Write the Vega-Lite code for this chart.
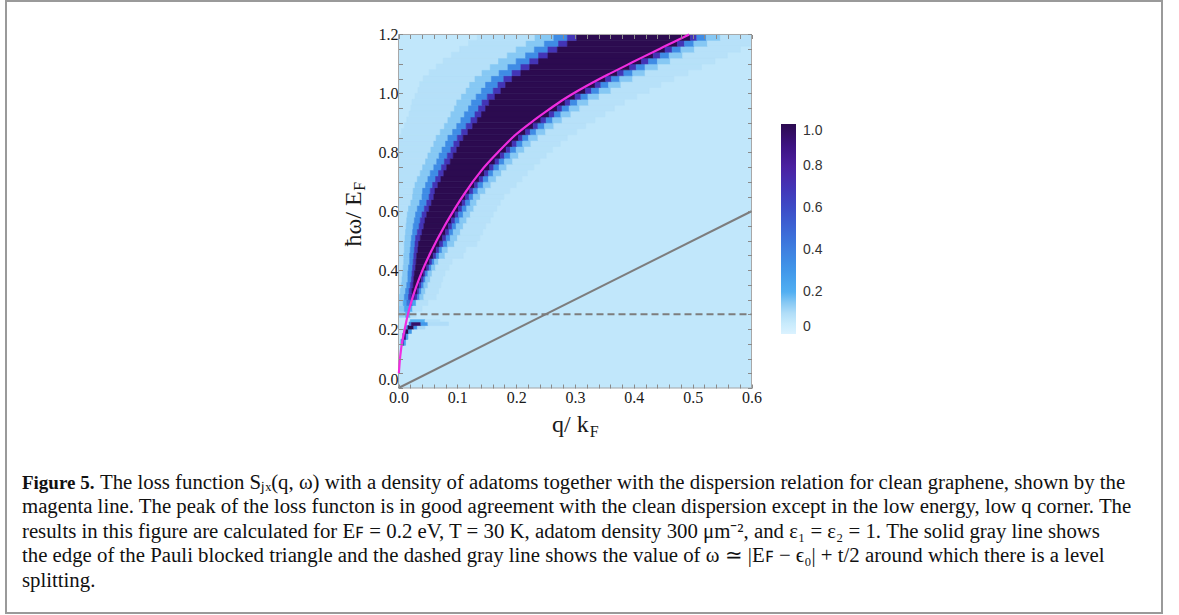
{
"$schema":"https://vega.github.io/schema/vega-lite/v6.json",
"width":1156,"height":612,
"autosize":{"type":"none"},
"padding":{"left":6,"top":1,"right":17,"bottom":2},
"background":"white",
"config":{"view":{"stroke":"#9a9a9a","strokeWidth":2}},
"resolve":{"axis":{"x":"independent","y":"independent"}},
"layer":[
{
"data":{"values":[
{"w":0,"w2":1.2,"q":0,"q2":0.6,"v":0.065},
{"w":0.24,"w2":0.26,"q":0,"q2":0.012,"v":0.13},{"w":0.24,"w2":0.26,"q":0.012,"q2":0.02,"v":0.2},{"w":0.24,"w2":0.26,"q":0.02,"q2":0.03,"v":0.09},
{"w":0.26,"w2":0.28,"q":0,"q2":0.01,"v":0.15},{"w":0.26,"w2":0.28,"q":0.01,"q2":0.018,"v":0.25},{"w":0.26,"w2":0.28,"q":0.018,"q2":0.024,"v":0.2},{"w":0.26,"w2":0.28,"q":0.024,"q2":0.04,"v":0.09},
{"w":0.28,"w2":0.3,"q":0,"q2":0.008,"v":0.13},{"w":0.28,"w2":0.3,"q":0.008,"q2":0.014,"v":0.25},{"w":0.28,"w2":0.3,"q":0.014,"q2":0.019,"v":0.45},{"w":0.28,"w2":0.3,"q":0.019,"q2":0.024,"v":0.55},{"w":0.28,"w2":0.3,"q":0.024,"q2":0.03,"v":0.25},{"w":0.28,"w2":0.3,"q":0.03,"q2":0.05,"v":0.09},
{"w":0.3,"w2":0.32,"q":0.001,"q2":0.01,"v":0.15},{"w":0.3,"w2":0.32,"q":0.01,"q2":0.017,"v":0.35},{"w":0.3,"w2":0.32,"q":0.017,"q2":0.021,"v":0.7},{"w":0.3,"w2":0.32,"q":0.021,"q2":0.028,"v":0.85},{"w":0.3,"w2":0.32,"q":0.028,"q2":0.032,"v":0.7},{"w":0.3,"w2":0.32,"q":0.032,"q2":0.036,"v":0.35},{"w":0.3,"w2":0.32,"q":0.036,"q2":0.043,"v":0.15},{"w":0.3,"w2":0.32,"q":0.043,"q2":0.064,"v":0.085},
{"w":0.32,"w2":0.34,"q":0,"q2":0.003,"v":0.09},{"w":0.32,"w2":0.34,"q":0.003,"q2":0.012,"v":0.15},{"w":0.32,"w2":0.34,"q":0.012,"q2":0.018,"v":0.35},{"w":0.32,"w2":0.34,"q":0.018,"q2":0.023,"v":0.7},{"w":0.32,"w2":0.34,"q":0.023,"q2":0.032,"v":1},{"w":0.32,"w2":0.34,"q":0.032,"q2":0.035,"v":0.7},{"w":0.32,"w2":0.34,"q":0.035,"q2":0.039,"v":0.35},{"w":0.32,"w2":0.34,"q":0.039,"q2":0.046,"v":0.15},{"w":0.32,"w2":0.34,"q":0.046,"q2":0.068,"v":0.085},
{"w":0.34,"w2":0.36,"q":0,"q2":0.005,"v":0.09},{"w":0.34,"w2":0.36,"q":0.005,"q2":0.014,"v":0.15},{"w":0.34,"w2":0.36,"q":0.014,"q2":0.02,"v":0.35},{"w":0.34,"w2":0.36,"q":0.02,"q2":0.025,"v":0.7},{"w":0.34,"w2":0.36,"q":0.025,"q2":0.035,"v":1},{"w":0.34,"w2":0.36,"q":0.035,"q2":0.039,"v":0.7},{"w":0.34,"w2":0.36,"q":0.039,"q2":0.043,"v":0.35},{"w":0.34,"w2":0.36,"q":0.043,"q2":0.05,"v":0.15},{"w":0.34,"w2":0.36,"q":0.05,"q2":0.072,"v":0.085},
{"w":0.36,"w2":0.38,"q":0,"q2":0.006,"v":0.09},{"w":0.36,"w2":0.38,"q":0.006,"q2":0.016,"v":0.15},{"w":0.36,"w2":0.38,"q":0.016,"q2":0.022,"v":0.35},{"w":0.36,"w2":0.38,"q":0.022,"q2":0.026,"v":0.7},{"w":0.36,"w2":0.38,"q":0.026,"q2":0.039,"v":1},{"w":0.36,"w2":0.38,"q":0.039,"q2":0.043,"v":0.7},{"w":0.36,"w2":0.38,"q":0.043,"q2":0.046,"v":0.35},{"w":0.36,"w2":0.38,"q":0.046,"q2":0.054,"v":0.15},{"w":0.36,"w2":0.38,"q":0.054,"q2":0.075,"v":0.085},
{"w":0.38,"w2":0.4,"q":0,"q2":0.007,"v":0.09},{"w":0.38,"w2":0.4,"q":0.007,"q2":0.016,"v":0.15},{"w":0.38,"w2":0.4,"q":0.016,"q2":0.023,"v":0.35},{"w":0.38,"w2":0.4,"q":0.023,"q2":0.027,"v":0.7},{"w":0.38,"w2":0.4,"q":0.027,"q2":0.043,"v":1},{"w":0.38,"w2":0.4,"q":0.043,"q2":0.046,"v":0.7},{"w":0.38,"w2":0.4,"q":0.046,"q2":0.05,"v":0.35},{"w":0.38,"w2":0.4,"q":0.05,"q2":0.057,"v":0.15},{"w":0.38,"w2":0.4,"q":0.057,"q2":0.079,"v":0.085},
{"w":0.4,"w2":0.42,"q":0,"q2":0.008,"v":0.09},{"w":0.4,"w2":0.42,"q":0.008,"q2":0.017,"v":0.15},{"w":0.4,"w2":0.42,"q":0.017,"q2":0.024,"v":0.35},{"w":0.4,"w2":0.42,"q":0.024,"q2":0.029,"v":0.7},{"w":0.4,"w2":0.42,"q":0.029,"q2":0.048,"v":1},{"w":0.4,"w2":0.42,"q":0.048,"q2":0.052,"v":0.7},{"w":0.4,"w2":0.42,"q":0.052,"q2":0.056,"v":0.35},{"w":0.4,"w2":0.42,"q":0.056,"q2":0.063,"v":0.15},{"w":0.4,"w2":0.42,"q":0.063,"q2":0.086,"v":0.085},
{"w":0.42,"w2":0.44,"q":0,"q2":0.009,"v":0.09},{"w":0.42,"w2":0.44,"q":0.009,"q2":0.019,"v":0.15},{"w":0.42,"w2":0.44,"q":0.019,"q2":0.025,"v":0.35},{"w":0.42,"w2":0.44,"q":0.025,"q2":0.03,"v":0.7},{"w":0.42,"w2":0.44,"q":0.03,"q2":0.053,"v":1},{"w":0.42,"w2":0.44,"q":0.053,"q2":0.057,"v":0.7},{"w":0.42,"w2":0.44,"q":0.057,"q2":0.061,"v":0.35},{"w":0.42,"w2":0.44,"q":0.061,"q2":0.068,"v":0.15},{"w":0.42,"w2":0.44,"q":0.068,"q2":0.091,"v":0.085},
{"w":0.44,"w2":0.46,"q":0,"q2":0.009,"v":0.09},{"w":0.44,"w2":0.46,"q":0.009,"q2":0.019,"v":0.15},{"w":0.44,"w2":0.46,"q":0.019,"q2":0.026,"v":0.35},{"w":0.44,"w2":0.46,"q":0.026,"q2":0.031,"v":0.7},{"w":0.44,"w2":0.46,"q":0.031,"q2":0.059,"v":1},{"w":0.44,"w2":0.46,"q":0.059,"q2":0.064,"v":0.7},{"w":0.44,"w2":0.46,"q":0.064,"q2":0.069,"v":0.35},{"w":0.44,"w2":0.46,"q":0.069,"q2":0.079,"v":0.15},{"w":0.44,"w2":0.46,"q":0.079,"q2":0.11,"v":0.085},
{"w":0.46,"w2":0.48,"q":0,"q2":0.01,"v":0.09},{"w":0.46,"w2":0.48,"q":0.01,"q2":0.02,"v":0.15},{"w":0.46,"w2":0.48,"q":0.02,"q2":0.027,"v":0.35},{"w":0.46,"w2":0.48,"q":0.027,"q2":0.033,"v":0.7},{"w":0.46,"w2":0.48,"q":0.033,"q2":0.064,"v":1},{"w":0.46,"w2":0.48,"q":0.064,"q2":0.069,"v":0.7},{"w":0.46,"w2":0.48,"q":0.069,"q2":0.074,"v":0.35},{"w":0.46,"w2":0.48,"q":0.074,"q2":0.084,"v":0.15},{"w":0.46,"w2":0.48,"q":0.084,"q2":0.114,"v":0.085},
{"w":0.48,"w2":0.5,"q":0,"q2":0.01,"v":0.09},{"w":0.48,"w2":0.5,"q":0.01,"q2":0.021,"v":0.15},{"w":0.48,"w2":0.5,"q":0.021,"q2":0.028,"v":0.35},{"w":0.48,"w2":0.5,"q":0.028,"q2":0.034,"v":0.7},{"w":0.48,"w2":0.5,"q":0.034,"q2":0.07,"v":1},{"w":0.48,"w2":0.5,"q":0.07,"q2":0.076,"v":0.7},{"w":0.48,"w2":0.5,"q":0.076,"q2":0.083,"v":0.35},{"w":0.48,"w2":0.5,"q":0.083,"q2":0.095,"v":0.15},{"w":0.48,"w2":0.5,"q":0.095,"q2":0.133,"v":0.085},
{"w":0.5,"w2":0.52,"q":0,"q2":0.011,"v":0.09},{"w":0.5,"w2":0.52,"q":0.011,"q2":0.022,"v":0.15},{"w":0.5,"w2":0.52,"q":0.022,"q2":0.029,"v":0.35},{"w":0.5,"w2":0.52,"q":0.029,"q2":0.037,"v":0.7},{"w":0.5,"w2":0.52,"q":0.037,"q2":0.075,"v":1},{"w":0.5,"w2":0.52,"q":0.075,"q2":0.081,"v":0.7},{"w":0.5,"w2":0.52,"q":0.081,"q2":0.088,"v":0.35},{"w":0.5,"w2":0.52,"q":0.088,"q2":0.1,"v":0.15},{"w":0.5,"w2":0.52,"q":0.1,"q2":0.138,"v":0.085},
{"w":0.52,"w2":0.54,"q":0,"q2":0.012,"v":0.09},{"w":0.52,"w2":0.54,"q":0.012,"q2":0.024,"v":0.15},{"w":0.52,"w2":0.54,"q":0.024,"q2":0.032,"v":0.35},{"w":0.52,"w2":0.54,"q":0.032,"q2":0.04,"v":0.7},{"w":0.52,"w2":0.54,"q":0.04,"q2":0.08,"v":1},{"w":0.52,"w2":0.54,"q":0.08,"q2":0.086,"v":0.7},{"w":0.52,"w2":0.54,"q":0.086,"q2":0.093,"v":0.35},{"w":0.52,"w2":0.54,"q":0.093,"q2":0.105,"v":0.15},{"w":0.52,"w2":0.54,"q":0.105,"q2":0.143,"v":0.085},
{"w":0.54,"w2":0.56,"q":0,"q2":0.013,"v":0.09},{"w":0.54,"w2":0.56,"q":0.013,"q2":0.025,"v":0.15},{"w":0.54,"w2":0.56,"q":0.025,"q2":0.035,"v":0.35},{"w":0.54,"w2":0.56,"q":0.035,"q2":0.043,"v":0.7},{"w":0.54,"w2":0.56,"q":0.043,"q2":0.085,"v":1},{"w":0.54,"w2":0.56,"q":0.085,"q2":0.091,"v":0.7},{"w":0.54,"w2":0.56,"q":0.091,"q2":0.098,"v":0.35},{"w":0.54,"w2":0.56,"q":0.098,"q2":0.11,"v":0.15},{"w":0.54,"w2":0.56,"q":0.11,"q2":0.148,"v":0.085},
{"w":0.56,"w2":0.58,"q":0,"q2":0.014,"v":0.09},{"w":0.56,"w2":0.58,"q":0.014,"q2":0.027,"v":0.15},{"w":0.56,"w2":0.58,"q":0.027,"q2":0.037,"v":0.35},{"w":0.56,"w2":0.58,"q":0.037,"q2":0.045,"v":0.7},{"w":0.56,"w2":0.58,"q":0.045,"q2":0.09,"v":1},{"w":0.56,"w2":0.58,"q":0.09,"q2":0.096,"v":0.7},{"w":0.56,"w2":0.58,"q":0.096,"q2":0.104,"v":0.35},{"w":0.56,"w2":0.58,"q":0.104,"q2":0.116,"v":0.15},{"w":0.56,"w2":0.58,"q":0.116,"q2":0.156,"v":0.085},
{"w":0.58,"w2":0.6,"q":0,"q2":0.015,"v":0.09},{"w":0.58,"w2":0.6,"q":0.015,"q2":0.029,"v":0.15},{"w":0.58,"w2":0.6,"q":0.029,"q2":0.04,"v":0.35},{"w":0.58,"w2":0.6,"q":0.04,"q2":0.048,"v":0.7},{"w":0.58,"w2":0.6,"q":0.048,"q2":0.096,"v":1},{"w":0.58,"w2":0.6,"q":0.096,"q2":0.102,"v":0.7},{"w":0.58,"w2":0.6,"q":0.102,"q2":0.11,"v":0.35},{"w":0.58,"w2":0.6,"q":0.11,"q2":0.122,"v":0.15},{"w":0.58,"w2":0.6,"q":0.122,"q2":0.161,"v":0.085},
{"w":0.6,"w2":0.62,"q":0,"q2":0.017,"v":0.09},{"w":0.6,"w2":0.62,"q":0.017,"q2":0.032,"v":0.15},{"w":0.6,"w2":0.62,"q":0.032,"q2":0.044,"v":0.35},{"w":0.6,"w2":0.62,"q":0.044,"q2":0.052,"v":0.7},{"w":0.6,"w2":0.62,"q":0.052,"q2":0.102,"v":1},{"w":0.6,"w2":0.62,"q":0.102,"q2":0.108,"v":0.7},{"w":0.6,"w2":0.62,"q":0.108,"q2":0.116,"v":0.35},{"w":0.6,"w2":0.62,"q":0.116,"q2":0.128,"v":0.15},{"w":0.6,"w2":0.62,"q":0.128,"q2":0.167,"v":0.085},
{"w":0.62,"w2":0.64,"q":0,"q2":0.021,"v":0.09},{"w":0.62,"w2":0.64,"q":0.021,"q2":0.036,"v":0.15},{"w":0.62,"w2":0.64,"q":0.036,"q2":0.048,"v":0.35},{"w":0.62,"w2":0.64,"q":0.048,"q2":0.056,"v":0.7},{"w":0.62,"w2":0.64,"q":0.056,"q2":0.108,"v":1},{"w":0.62,"w2":0.64,"q":0.108,"q2":0.114,"v":0.7},{"w":0.62,"w2":0.64,"q":0.114,"q2":0.122,"v":0.35},{"w":0.62,"w2":0.64,"q":0.122,"q2":0.133,"v":0.15},{"w":0.62,"w2":0.64,"q":0.133,"q2":0.173,"v":0.085},
{"w":0.64,"w2":0.66,"q":0,"q2":0.024,"v":0.09},{"w":0.64,"w2":0.66,"q":0.024,"q2":0.04,"v":0.15},{"w":0.64,"w2":0.66,"q":0.04,"q2":0.052,"v":0.35},{"w":0.64,"w2":0.66,"q":0.052,"q2":0.06,"v":0.7},{"w":0.64,"w2":0.66,"q":0.06,"q2":0.114,"v":1},{"w":0.64,"w2":0.66,"q":0.114,"q2":0.12,"v":0.7},{"w":0.64,"w2":0.66,"q":0.12,"q2":0.127,"v":0.35},{"w":0.64,"w2":0.66,"q":0.127,"q2":0.139,"v":0.15},{"w":0.64,"w2":0.66,"q":0.139,"q2":0.179,"v":0.085},
{"w":0.66,"w2":0.68,"q":0,"q2":0.025,"v":0.09},{"w":0.66,"w2":0.68,"q":0.025,"q2":0.041,"v":0.15},{"w":0.66,"w2":0.68,"q":0.041,"q2":0.054,"v":0.35},{"w":0.66,"w2":0.68,"q":0.054,"q2":0.062,"v":0.7},{"w":0.66,"w2":0.68,"q":0.062,"q2":0.121,"v":1},{"w":0.66,"w2":0.68,"q":0.121,"q2":0.127,"v":0.7},{"w":0.66,"w2":0.68,"q":0.127,"q2":0.135,"v":0.35},{"w":0.66,"w2":0.68,"q":0.135,"q2":0.148,"v":0.15},{"w":0.66,"w2":0.68,"q":0.148,"q2":0.189,"v":0.085},
{"w":0.68,"w2":0.7,"q":0,"q2":0.028,"v":0.09},{"w":0.68,"w2":0.7,"q":0.028,"q2":0.046,"v":0.15},{"w":0.68,"w2":0.7,"q":0.046,"q2":0.058,"v":0.35},{"w":0.68,"w2":0.7,"q":0.058,"q2":0.067,"v":0.7},{"w":0.68,"w2":0.7,"q":0.067,"q2":0.129,"v":1},{"w":0.68,"w2":0.7,"q":0.129,"q2":0.135,"v":0.7},{"w":0.68,"w2":0.7,"q":0.135,"q2":0.144,"v":0.35},{"w":0.68,"w2":0.7,"q":0.144,"q2":0.157,"v":0.15},{"w":0.68,"w2":0.7,"q":0.157,"q2":0.2,"v":0.085},
{"w":0.7,"w2":0.72,"q":0,"q2":0.032,"v":0.09},{"w":0.7,"w2":0.72,"q":0.032,"q2":0.05,"v":0.15},{"w":0.7,"w2":0.72,"q":0.05,"q2":0.063,"v":0.35},{"w":0.7,"w2":0.72,"q":0.063,"q2":0.072,"v":0.7},{"w":0.7,"w2":0.72,"q":0.072,"q2":0.137,"v":1},{"w":0.7,"w2":0.72,"q":0.137,"q2":0.144,"v":0.7},{"w":0.7,"w2":0.72,"q":0.144,"q2":0.153,"v":0.35},{"w":0.7,"w2":0.72,"q":0.153,"q2":0.166,"v":0.15},{"w":0.7,"w2":0.72,"q":0.166,"q2":0.21,"v":0.085},
{"w":0.72,"w2":0.74,"q":0,"q2":0.037,"v":0.09},{"w":0.72,"w2":0.74,"q":0.037,"q2":0.054,"v":0.15},{"w":0.72,"w2":0.74,"q":0.054,"q2":0.068,"v":0.35},{"w":0.72,"w2":0.74,"q":0.068,"q2":0.077,"v":0.7},{"w":0.72,"w2":0.74,"q":0.077,"q2":0.146,"v":1},{"w":0.72,"w2":0.74,"q":0.146,"q2":0.153,"v":0.7},{"w":0.72,"w2":0.74,"q":0.153,"q2":0.161,"v":0.35},{"w":0.72,"w2":0.74,"q":0.161,"q2":0.175,"v":0.15},{"w":0.72,"w2":0.74,"q":0.175,"q2":0.219,"v":0.085},
{"w":0.74,"w2":0.76,"q":0,"q2":0.041,"v":0.09},{"w":0.74,"w2":0.76,"q":0.041,"q2":0.06,"v":0.15},{"w":0.74,"w2":0.76,"q":0.06,"q2":0.073,"v":0.35},{"w":0.74,"w2":0.76,"q":0.073,"q2":0.082,"v":0.7},{"w":0.74,"w2":0.76,"q":0.082,"q2":0.155,"v":1},{"w":0.74,"w2":0.76,"q":0.155,"q2":0.162,"v":0.7},{"w":0.74,"w2":0.76,"q":0.162,"q2":0.171,"v":0.35},{"w":0.74,"w2":0.76,"q":0.171,"q2":0.184,"v":0.15},{"w":0.74,"w2":0.76,"q":0.184,"q2":0.23,"v":0.085},
{"w":0.76,"w2":0.78,"q":0,"q2":0.046,"v":0.09},{"w":0.76,"w2":0.78,"q":0.046,"q2":0.065,"v":0.15},{"w":0.76,"w2":0.78,"q":0.065,"q2":0.078,"v":0.35},{"w":0.76,"w2":0.78,"q":0.078,"q2":0.088,"v":0.7},{"w":0.76,"w2":0.78,"q":0.088,"q2":0.164,"v":1},{"w":0.76,"w2":0.78,"q":0.164,"q2":0.171,"v":0.7},{"w":0.76,"w2":0.78,"q":0.171,"q2":0.18,"v":0.35},{"w":0.76,"w2":0.78,"q":0.18,"q2":0.194,"v":0.15},{"w":0.76,"w2":0.78,"q":0.194,"q2":0.24,"v":0.085},
{"w":0.78,"w2":0.8,"q":0,"q2":0.05,"v":0.09},{"w":0.78,"w2":0.8,"q":0.05,"q2":0.069,"v":0.15},{"w":0.78,"w2":0.8,"q":0.069,"q2":0.083,"v":0.35},{"w":0.78,"w2":0.8,"q":0.083,"q2":0.093,"v":0.7},{"w":0.78,"w2":0.8,"q":0.093,"q2":0.173,"v":1},{"w":0.78,"w2":0.8,"q":0.173,"q2":0.18,"v":0.7},{"w":0.78,"w2":0.8,"q":0.18,"q2":0.19,"v":0.35},{"w":0.78,"w2":0.8,"q":0.19,"q2":0.204,"v":0.15},{"w":0.78,"w2":0.8,"q":0.204,"q2":0.251,"v":0.085},
{"w":0.8,"w2":0.82,"q":0,"q2":0.055,"v":0.09},{"w":0.8,"w2":0.82,"q":0.055,"q2":0.074,"v":0.15},{"w":0.8,"w2":0.82,"q":0.074,"q2":0.089,"v":0.35},{"w":0.8,"w2":0.82,"q":0.089,"q2":0.099,"v":0.7},{"w":0.8,"w2":0.82,"q":0.099,"q2":0.183,"v":1},{"w":0.8,"w2":0.82,"q":0.183,"q2":0.19,"v":0.7},{"w":0.8,"w2":0.82,"q":0.19,"q2":0.2,"v":0.35},{"w":0.8,"w2":0.82,"q":0.2,"q2":0.214,"v":0.15},{"w":0.8,"w2":0.82,"q":0.214,"q2":0.262,"v":0.085},
{"w":0.82,"w2":0.84,"q":0,"q2":0.06,"v":0.09},{"w":0.82,"w2":0.84,"q":0.06,"q2":0.08,"v":0.15},{"w":0.82,"w2":0.84,"q":0.08,"q2":0.094,"v":0.35},{"w":0.82,"w2":0.84,"q":0.094,"q2":0.104,"v":0.7},{"w":0.82,"w2":0.84,"q":0.104,"q2":0.193,"v":1},{"w":0.82,"w2":0.84,"q":0.193,"q2":0.201,"v":0.7},{"w":0.82,"w2":0.84,"q":0.201,"q2":0.211,"v":0.35},{"w":0.82,"w2":0.84,"q":0.211,"q2":0.225,"v":0.15},{"w":0.82,"w2":0.84,"q":0.225,"q2":0.275,"v":0.085},
{"w":0.84,"w2":0.86,"q":0,"q2":0.064,"v":0.09},{"w":0.84,"w2":0.86,"q":0.064,"q2":0.084,"v":0.15},{"w":0.84,"w2":0.86,"q":0.084,"q2":0.1,"v":0.35},{"w":0.84,"w2":0.86,"q":0.1,"q2":0.11,"v":0.7},{"w":0.84,"w2":0.86,"q":0.11,"q2":0.204,"v":1},{"w":0.84,"w2":0.86,"q":0.204,"q2":0.211,"v":0.7},{"w":0.84,"w2":0.86,"q":0.211,"q2":0.221,"v":0.35},{"w":0.84,"w2":0.86,"q":0.221,"q2":0.237,"v":0.15},{"w":0.84,"w2":0.86,"q":0.237,"q2":0.287,"v":0.085},
{"w":0.86,"w2":0.88,"q":0.005,"q2":0.071,"v":0.09},{"w":0.86,"w2":0.88,"q":0.071,"q2":0.092,"v":0.15},{"w":0.86,"w2":0.88,"q":0.092,"q2":0.107,"v":0.35},{"w":0.86,"w2":0.88,"q":0.107,"q2":0.118,"v":0.7},{"w":0.86,"w2":0.88,"q":0.118,"q2":0.216,"v":1},{"w":0.86,"w2":0.88,"q":0.216,"q2":0.224,"v":0.7},{"w":0.86,"w2":0.88,"q":0.224,"q2":0.234,"v":0.35},{"w":0.86,"w2":0.88,"q":0.234,"q2":0.25,"v":0.15},{"w":0.86,"w2":0.88,"q":0.25,"q2":0.303,"v":0.085},
{"w":0.88,"w2":0.9,"q":0.01,"q2":0.078,"v":0.09},{"w":0.88,"w2":0.9,"q":0.078,"q2":0.099,"v":0.15},{"w":0.88,"w2":0.9,"q":0.099,"q2":0.115,"v":0.35},{"w":0.88,"w2":0.9,"q":0.115,"q2":0.126,"v":0.7},{"w":0.88,"w2":0.9,"q":0.126,"q2":0.229,"v":1},{"w":0.88,"w2":0.9,"q":0.229,"q2":0.237,"v":0.7},{"w":0.88,"w2":0.9,"q":0.237,"q2":0.248,"v":0.35},{"w":0.88,"w2":0.9,"q":0.248,"q2":0.264,"v":0.15},{"w":0.88,"w2":0.9,"q":0.264,"q2":0.318,"v":0.085},
{"w":0.9,"w2":0.92,"q":0.014,"q2":0.084,"v":0.09},{"w":0.9,"w2":0.92,"q":0.084,"q2":0.106,"v":0.15},{"w":0.9,"w2":0.92,"q":0.106,"q2":0.123,"v":0.35},{"w":0.9,"w2":0.92,"q":0.123,"q2":0.134,"v":0.7},{"w":0.9,"w2":0.92,"q":0.134,"q2":0.242,"v":1},{"w":0.9,"w2":0.92,"q":0.242,"q2":0.251,"v":0.7},{"w":0.9,"w2":0.92,"q":0.251,"q2":0.262,"v":0.35},{"w":0.9,"w2":0.92,"q":0.262,"q2":0.278,"v":0.15},{"w":0.9,"w2":0.92,"q":0.278,"q2":0.334,"v":0.085},
{"w":0.92,"w2":0.94,"q":0.018,"q2":0.089,"v":0.09},{"w":0.92,"w2":0.94,"q":0.089,"q2":0.112,"v":0.15},{"w":0.92,"w2":0.94,"q":0.112,"q2":0.13,"v":0.35},{"w":0.92,"w2":0.94,"q":0.13,"q2":0.141,"v":0.7},{"w":0.92,"w2":0.94,"q":0.141,"q2":0.256,"v":1},{"w":0.92,"w2":0.94,"q":0.256,"q2":0.265,"v":0.7},{"w":0.92,"w2":0.94,"q":0.265,"q2":0.276,"v":0.35},{"w":0.92,"w2":0.94,"q":0.276,"q2":0.293,"v":0.15},{"w":0.92,"w2":0.94,"q":0.293,"q2":0.351,"v":0.085},
{"w":0.94,"w2":0.96,"q":0.021,"q2":0.095,"v":0.09},{"w":0.94,"w2":0.96,"q":0.095,"q2":0.119,"v":0.15},{"w":0.94,"w2":0.96,"q":0.119,"q2":0.136,"v":0.35},{"w":0.94,"w2":0.96,"q":0.136,"q2":0.148,"v":0.7},{"w":0.94,"w2":0.96,"q":0.148,"q2":0.27,"v":1},{"w":0.94,"w2":0.96,"q":0.27,"q2":0.278,"v":0.7},{"w":0.94,"w2":0.96,"q":0.278,"q2":0.29,"v":0.35},{"w":0.94,"w2":0.96,"q":0.29,"q2":0.308,"v":0.15},{"w":0.94,"w2":0.96,"q":0.308,"q2":0.367,"v":0.085},
{"w":0.96,"w2":0.98,"q":0.023,"q2":0.099,"v":0.09},{"w":0.96,"w2":0.98,"q":0.099,"q2":0.124,"v":0.15},{"w":0.96,"w2":0.98,"q":0.124,"q2":0.142,"v":0.35},{"w":0.96,"w2":0.98,"q":0.142,"q2":0.154,"v":0.7},{"w":0.96,"w2":0.98,"q":0.154,"q2":0.283,"v":1},{"w":0.96,"w2":0.98,"q":0.283,"q2":0.292,"v":0.7},{"w":0.96,"w2":0.98,"q":0.292,"q2":0.304,"v":0.35},{"w":0.96,"w2":0.98,"q":0.304,"q2":0.323,"v":0.15},{"w":0.96,"w2":0.98,"q":0.323,"q2":0.384,"v":0.085},
{"w":0.98,"w2":1,"q":0.028,"q2":0.107,"v":0.09},{"w":0.98,"w2":1,"q":0.107,"q2":0.132,"v":0.15},{"w":0.98,"w2":1,"q":0.132,"q2":0.151,"v":0.35},{"w":0.98,"w2":1,"q":0.151,"q2":0.164,"v":0.7},{"w":0.98,"w2":1,"q":0.164,"q2":0.3,"v":1},{"w":0.98,"w2":1,"q":0.3,"q2":0.31,"v":0.7},{"w":0.98,"w2":1,"q":0.31,"q2":0.322,"v":0.35},{"w":0.98,"w2":1,"q":0.322,"q2":0.341,"v":0.15},{"w":0.98,"w2":1,"q":0.341,"q2":0.405,"v":0.085},
{"w":1,"w2":1.02,"q":0.033,"q2":0.115,"v":0.09},{"w":1,"w2":1.02,"q":0.115,"q2":0.141,"v":0.15},{"w":1,"w2":1.02,"q":0.141,"q2":0.161,"v":0.35},{"w":1,"w2":1.02,"q":0.161,"q2":0.174,"v":0.7},{"w":1,"w2":1.02,"q":0.174,"q2":0.318,"v":1},{"w":1,"w2":1.02,"q":0.318,"q2":0.328,"v":0.7},{"w":1,"w2":1.02,"q":0.328,"q2":0.341,"v":0.35},{"w":1,"w2":1.02,"q":0.341,"q2":0.361,"v":0.15},{"w":1,"w2":1.02,"q":0.361,"q2":0.426,"v":0.085},
{"w":1.02,"w2":1.04,"q":0.036,"q2":0.121,"v":0.09},{"w":1.02,"w2":1.04,"q":0.121,"q2":0.148,"v":0.15},{"w":1.02,"w2":1.04,"q":0.148,"q2":0.169,"v":0.35},{"w":1.02,"w2":1.04,"q":0.169,"q2":0.182,"v":0.7},{"w":1.02,"w2":1.04,"q":0.182,"q2":0.334,"v":1},{"w":1.02,"w2":1.04,"q":0.334,"q2":0.344,"v":0.7},{"w":1.02,"w2":1.04,"q":0.344,"q2":0.357,"v":0.35},{"w":1.02,"w2":1.04,"q":0.357,"q2":0.378,"v":0.15},{"w":1.02,"w2":1.04,"q":0.378,"q2":0.446,"v":0.085},
{"w":1.04,"w2":1.06,"q":0.042,"q2":0.13,"v":0.09},{"w":1.04,"w2":1.06,"q":0.13,"q2":0.158,"v":0.15},{"w":1.04,"w2":1.06,"q":0.158,"q2":0.179,"v":0.35},{"w":1.04,"w2":1.06,"q":0.179,"q2":0.193,"v":0.7},{"w":1.04,"w2":1.06,"q":0.193,"q2":0.352,"v":1},{"w":1.04,"w2":1.06,"q":0.352,"q2":0.362,"v":0.7},{"w":1.04,"w2":1.06,"q":0.362,"q2":0.376,"v":0.35},{"w":1.04,"w2":1.06,"q":0.376,"q2":0.398,"v":0.15},{"w":1.04,"w2":1.06,"q":0.398,"q2":0.468,"v":0.085},
{"w":1.06,"w2":1.08,"q":0.052,"q2":0.142,"v":0.09},{"w":1.06,"w2":1.08,"q":0.142,"q2":0.171,"v":0.15},{"w":1.06,"w2":1.08,"q":0.171,"q2":0.193,"v":0.35},{"w":1.06,"w2":1.08,"q":0.193,"q2":0.208,"v":0.7},{"w":1.06,"w2":1.08,"q":0.208,"q2":0.372,"v":1},{"w":1.06,"w2":1.08,"q":0.372,"q2":0.383,"v":0.7},{"w":1.06,"w2":1.08,"q":0.383,"q2":0.398,"v":0.35},{"w":1.06,"w2":1.08,"q":0.398,"q2":0.419,"v":0.15},{"w":1.06,"w2":1.08,"q":0.419,"q2":0.492,"v":0.085},
{"w":1.08,"w2":1.1,"q":0.064,"q2":0.156,"v":0.09},{"w":1.08,"w2":1.1,"q":0.156,"q2":0.186,"v":0.15},{"w":1.08,"w2":1.1,"q":0.186,"q2":0.208,"v":0.35},{"w":1.08,"w2":1.1,"q":0.208,"q2":0.223,"v":0.7},{"w":1.08,"w2":1.1,"q":0.223,"q2":0.393,"v":1},{"w":1.08,"w2":1.1,"q":0.393,"q2":0.404,"v":0.7},{"w":1.08,"w2":1.1,"q":0.404,"q2":0.419,"v":0.35},{"w":1.08,"w2":1.1,"q":0.419,"q2":0.441,"v":0.15},{"w":1.08,"w2":1.1,"q":0.441,"q2":0.515,"v":0.085},
{"w":1.1,"w2":1.12,"q":0.076,"q2":0.17,"v":0.09},{"w":1.1,"w2":1.12,"q":0.17,"q2":0.2,"v":0.15},{"w":1.1,"w2":1.12,"q":0.2,"q2":0.223,"v":0.35},{"w":1.1,"w2":1.12,"q":0.223,"q2":0.238,"v":0.7},{"w":1.1,"w2":1.12,"q":0.238,"q2":0.413,"v":1},{"w":1.1,"w2":1.12,"q":0.413,"q2":0.425,"v":0.7},{"w":1.1,"w2":1.12,"q":0.425,"q2":0.44,"v":0.35},{"w":1.1,"w2":1.12,"q":0.44,"q2":0.462,"v":0.15},{"w":1.1,"w2":1.12,"q":0.462,"q2":0.538,"v":0.085},
{"w":1.12,"w2":1.14,"q":0.09,"q2":0.185,"v":0.09},{"w":1.12,"w2":1.14,"q":0.185,"q2":0.216,"v":0.15},{"w":1.12,"w2":1.14,"q":0.216,"q2":0.238,"v":0.35},{"w":1.12,"w2":1.14,"q":0.238,"q2":0.254,"v":0.7},{"w":1.12,"w2":1.14,"q":0.254,"q2":0.433,"v":1},{"w":1.12,"w2":1.14,"q":0.433,"q2":0.445,"v":0.7},{"w":1.12,"w2":1.14,"q":0.445,"q2":0.46,"v":0.35},{"w":1.12,"w2":1.14,"q":0.46,"q2":0.483,"v":0.15},{"w":1.12,"w2":1.14,"q":0.483,"q2":0.559,"v":0.085},
{"w":1.14,"w2":1.16,"q":0.104,"q2":0.2,"v":0.09},{"w":1.14,"w2":1.16,"q":0.2,"q2":0.231,"v":0.15},{"w":1.14,"w2":1.16,"q":0.231,"q2":0.254,"v":0.35},{"w":1.14,"w2":1.16,"q":0.254,"q2":0.27,"v":0.7},{"w":1.14,"w2":1.16,"q":0.27,"q2":0.453,"v":1},{"w":1.14,"w2":1.16,"q":0.453,"q2":0.465,"v":0.7},{"w":1.14,"w2":1.16,"q":0.465,"q2":0.48,"v":0.35},{"w":1.14,"w2":1.16,"q":0.48,"q2":0.503,"v":0.15},{"w":1.14,"w2":1.16,"q":0.503,"q2":0.581,"v":0.085},
{"w":1.16,"w2":1.18,"q":0.119,"q2":0.217,"v":0.09},{"w":1.16,"w2":1.18,"q":0.217,"q2":0.248,"v":0.15},{"w":1.16,"w2":1.18,"q":0.248,"q2":0.272,"v":0.35},{"w":1.16,"w2":1.18,"q":0.272,"q2":0.287,"v":0.7},{"w":1.16,"w2":1.18,"q":0.287,"q2":0.474,"v":1},{"w":1.16,"w2":1.18,"q":0.474,"q2":0.486,"v":0.7},{"w":1.16,"w2":1.18,"q":0.486,"q2":0.502,"v":0.35},{"w":1.16,"w2":1.18,"q":0.502,"q2":0.525,"v":0.15},{"w":1.16,"w2":1.18,"q":0.525,"q2":0.6,"v":0.085},
{"w":1.18,"w2":1.2,"q":0.134,"q2":0.232,"v":0.09},{"w":1.18,"w2":1.2,"q":0.232,"q2":0.264,"v":0.15},{"w":1.18,"w2":1.2,"q":0.264,"q2":0.287,"v":0.35},{"w":1.18,"w2":1.2,"q":0.287,"q2":0.303,"v":0.7},{"w":1.18,"w2":1.2,"q":0.303,"q2":0.496,"v":1},{"w":1.18,"w2":1.2,"q":0.496,"q2":0.507,"v":0.7},{"w":1.18,"w2":1.2,"q":0.507,"q2":0.523,"v":0.35},{"w":1.18,"w2":1.2,"q":0.523,"q2":0.547,"v":0.15},{"w":1.18,"w2":1.2,"q":0.547,"q2":0.6,"v":0.085},
{"w":0.145,"w2":0.165,"q":0.004,"q2":0.0065,"v":0.3},{"w":0.145,"w2":0.165,"q":0.0065,"q2":0.0095,"v":0.7},{"w":0.145,"w2":0.165,"q":0.0095,"q2":0.012,"v":0.25},
{"w":0.165,"w2":0.185,"q":0.007,"q2":0.0095,"v":0.45},{"w":0.165,"w2":0.185,"q":0.0095,"q2":0.013,"v":0.9},{"w":0.165,"w2":0.185,"q":0.013,"q2":0.016,"v":0.25},
{"w":0.185,"w2":0.2,"q":0.009,"q2":0.012,"v":0.35},{"w":0.185,"w2":0.2,"q":0.012,"q2":0.017,"v":1},{"w":0.185,"w2":0.2,"q":0.017,"q2":0.022,"v":0.3},
{"w":0.2,"w2":0.212,"q":0.012,"q2":0.016,"v":0.3},{"w":0.2,"w2":0.212,"q":0.016,"q2":0.026,"v":1},{"w":0.2,"w2":0.212,"q":0.026,"q2":0.032,"v":0.35},{"w":0.2,"w2":0.212,"q":0.032,"q2":0.045,"v":0.11},
{"w":0.212,"w2":0.224,"q":0.018,"q2":0.022,"v":0.45},{"w":0.212,"w2":0.224,"q":0.022,"q2":0.038,"v":0.95},{"w":0.212,"w2":0.224,"q":0.038,"q2":0.05,"v":0.3},{"w":0.212,"w2":0.224,"q":0.05,"q2":0.085,"v":0.1},
{"w":0.224,"w2":0.232,"q":0.02,"q2":0.045,"v":0.2},{"w":0.224,"w2":0.232,"q":0.045,"q2":0.07,"v":0.09}
]},
"mark":{"type":"rect","strokeWidth":0.6,"stroke":{"expr":"scale('color', datum.v)"}},
"encoding":{
"x":{"field":"q","type":"quantitative","scale":{"domain":[-0.66714,1.29773],"nice":false,"zero":false},
"axis":{"orient":"bottom","offset":-225,"zindex":2,"title":null,"domain":false,"grid":false,
"values":[0,0.02,0.04,0.06,0.08,0.1,0.12,0.14,0.16,0.18,0.2,0.22,0.24,0.26,0.28,0.3,0.32,0.34,0.36,0.38,0.4,0.42,0.44,0.46,0.48,0.5,0.52,0.54,0.56,0.58,0.6],
"tickColor":"#8a8a8a","tickWidth":1,"tickSize":-4,
"labelExpr":"abs(datum.value*10-round(datum.value*10))<0.001 ? format(datum.value,'.1f') : ''",
"labelFont":"Liberation Serif","labelFontSize":16,"labelColor":"#1a1a1a","labelPadding":5,"labelFlush":false,"labelOverlap":false}},
"x2":{"field":"q2"},
"y":{"field":"w","type":"quantitative","scale":{"domain":[-0.76381,1.31372],"nice":false,"zero":false},
"axis":{"orient":"left","offset":-392.5,"zindex":2,"title":null,"domain":false,"grid":false,
"values":[0,0.05,0.1,0.15,0.2,0.25,0.3,0.35,0.4,0.45,0.5,0.55,0.6,0.65,0.7,0.75,0.8,0.85,0.9,0.95,1,1.05,1.1,1.15,1.2],
"tickColor":"#8a8a8a","tickWidth":1,"tickSize":-4,
"labelExpr":"abs(datum.value*5-round(datum.value*5))<0.001 ? format(datum.value,'.1f') : ''",
"labelBaseline":{"condition":{"test":"datum.value == 0","value":"bottom"},"value":"middle"},
"labelFont":"Liberation Serif","labelFontSize":16,"labelColor":"#1a1a1a","labelPadding":4.5,"labelFlush":false,"labelOverlap":false}},
"y2":{"field":"w2"},
"color":{"field":"v","type":"quantitative",
"scale":{"domain":[0,0.05,0.1,0.15,0.2,0.3,0.4,0.5,0.6,0.7,0.8,0.9,1],"range":["#dbf2ff","#c8ebfc","#b0ddf8","#86c8f4","#52aff2","#4298ea","#3f80e0","#3c66d5","#3d4cc7","#4334b6","#4b20a0","#3c1280","#2c0b50"],"clamp":true},
"legend":{"type":"gradient","orient":"none","legendX":775,"legendY":123,"direction":"vertical","title":null,"padding":0,
"gradientLength":210,"gradientThickness":15,"gradientStrokeWidth":0,
"values":[0,0.2,0.4,0.6,0.8,1],
"labelExpr":"datum.value == 0 ? '0' : format(datum.value, '.1f')",
"labelBaseline":"middle",
"labelFont":"Liberation Sans","labelFontSize":14,"labelColor":"#333333","labelOffset":7,"labelOverlap":false}}
}
},
{
"data":{"values":[{"q":0,"q2":0.6,"w":0,"w2":1.2}]},
"mark":{"type":"rect","filled":false,"color":"#a8a8a8","strokeWidth":1},
"encoding":{
"x":{"field":"q","type":"quantitative",
"axis":{"orient":"top","offset":-33.5,"zindex":2,"title":null,"domain":false,"grid":false,"labels":false,
"values":[0,0.02,0.04,0.06,0.08,0.1,0.12,0.14,0.16,0.18,0.2,0.22,0.24,0.26,0.28,0.3,0.32,0.34,0.36,0.38,0.4,0.42,0.44,0.46,0.48,0.5,0.52,0.54,0.56,0.58,0.6],
"tickColor":"#8a8a8a","tickWidth":1,"tickSize":-4}},
"x2":{"field":"q2"},
"y":{"field":"w","type":"quantitative",
"axis":{"orient":"right","offset":-410.5,"zindex":2,"title":null,"domain":false,"grid":false,"labels":false,
"values":[0,0.05,0.1,0.15,0.2,0.25,0.3,0.35,0.4,0.45,0.5,0.55,0.6,0.65,0.7,0.75,0.8,0.85,0.9,0.95,1,1.05,1.1,1.15,1.2],
"tickColor":"#8a8a8a","tickWidth":1,"tickSize":-4}},
"y2":{"field":"w2"}
}
},
{
"data":{"values":[{"q":0,"w":0,"q2":0.6,"w2":0.6}]},
"mark":{"type":"rule","color":"#7d7d7d","strokeWidth":2},
"encoding":{"x":{"field":"q","type":"quantitative","axis":null},"y":{"field":"w","type":"quantitative","axis":null},"x2":{"field":"q2"},"y2":{"field":"w2"}}
},
{
"data":{"values":[{"q":0,"w":0.25,"q2":0.6,"w2":0.25}]},
"mark":{"type":"rule","color":"#7d7d7d","strokeWidth":2,"strokeDash":[7,4]},
"encoding":{"x":{"field":"q","type":"quantitative","axis":null},"y":{"field":"w","type":"quantitative","axis":null},"x2":{"field":"q2"},"y2":{"field":"w2"}}
},
{
"data":{"values":[
{"q":0.0006,"w":0.05},{"q":0.002,"w":0.088},{"q":0.0048,"w":0.138},{"q":0.0105,"w":0.199},{"q":0.016,"w":0.25},{"q":0.0246,"w":0.311},{"q":0.0388,"w":0.39},{"q":0.0558,"w":0.465},{"q":0.0785,"w":0.551},{"q":0.087,"w":0.58},{"q":0.104,"w":0.635},{"q":0.1125,"w":0.661},{"q":0.1408,"w":0.738},{"q":0.169,"w":0.8},{"q":0.1975,"w":0.857},{"q":0.2257,"w":0.902},{"q":0.254,"w":0.943},{"q":0.277,"w":0.975},{"q":0.305,"w":1.009},{"q":0.331,"w":1.038},{"q":0.36,"w":1.068},{"q":0.388,"w":1.096},{"q":0.416,"w":1.124},{"q":0.4445,"w":1.152},{"q":0.466,"w":1.173},{"q":0.487,"w":1.193},{"q":0.494,"w":1.2}
]},
"mark":{"type":"line","color":"#f02ce0","strokeWidth":2.2,"interpolate":"monotone"},
"encoding":{"x":{"field":"q","type":"quantitative","axis":null},"y":{"field":"w","type":"quantitative","axis":null}}
},
{
"data":{"values":[{"t":"ħω/ E"}]},
"mark":{"type":"text","font":"Liberation Serif","fontSize":24,"angle":270,"align":"center","baseline":"alphabetic","color":"#1a1a1a"},
"encoding":{"x":{"datum":-0.0637,"type":"quantitative","axis":null},"y":{"datum":0.5737,"type":"quantitative","axis":null},"text":{"field":"t"}}
},
{
"data":{"values":[{"t":"F"}]},
"mark":{"type":"text","font":"Liberation Serif","fontSize":16,"angle":270,"align":"center","baseline":"alphabetic","color":"#1a1a1a"},
"encoding":{"x":{"datum":-0.0561,"type":"quantitative","axis":null},"y":{"datum":0.6847,"type":"quantitative","axis":null},"text":{"field":"t"}}
},
{
"data":{"values":[{"t":"q/ k"}]},
"mark":{"type":"text","font":"Liberation Serif","fontSize":24,"align":"left","baseline":"alphabetic","color":"#1a1a1a"},
"encoding":{"x":{"datum":0.2609,"type":"quantitative","axis":null},"y":{"datum":-0.1494,"type":"quantitative","axis":null},"text":{"field":"t"}}
},
{
"data":{"values":[{"t":"F"}]},
"mark":{"type":"text","font":"Liberation Serif","fontSize":16,"align":"left","baseline":"alphabetic","color":"#1a1a1a"},
"encoding":{"x":{"datum":0.325,"type":"quantitative","axis":null},"y":{"datum":-0.1663,"type":"quantitative","axis":null},"text":{"field":"t"}}
},
{
"data":{"values":[{"t":"Figure 5."}]},
"mark":{"type":"text","font":"Liberation Serif","fontSize":19,"fontWeight":"bold","align":"left","baseline":"alphabetic","color":"#111111"},
"encoding":{"x":{"datum":-0.64,"type":"quantitative","axis":null},"y":{"datum":-0.3412,"type":"quantitative","axis":null},"text":{"field":"t"}}
},
{
"data":{"values":[{"t":"The loss function Sⱼₓ(q, ω) with a density of adatoms together with the dispersion relation for clean graphene, shown by the"}]},
"mark":{"type":"text","font":"Liberation Serif","fontSize":20.8,"align":"left","baseline":"alphabetic","color":"#111111"},
"encoding":{"x":{"datum":-0.5074,"type":"quantitative","axis":null},"y":{"datum":-0.3412,"type":"quantitative","axis":null},"text":{"field":"t"}}
},
{
"data":{"values":[{}]},
"mark":{"type":"text","font":"Liberation Serif","fontSize":20.8,"align":"left","baseline":"alphabetic","color":"#111111","lineHeight":24.67,
"text":["magenta line. The peak of the loss functon is in good agreement with the clean dispersion except in the low energy, low q corner. The","results in this figure are calculated for Eꜰ = 0.2 eV, T = 30 K, adatom density 300 μm⁻², and ε₁ = ε₂ = 1. The solid gray line shows","the edge of the Pauli blocked triangle and the dashed gray line shows the value of ω ≃ |Eꜰ − ϵ₀| + t/2 around which there is a level","splitting."]},
"encoding":{"x":{"datum":-0.64,"type":"quantitative","axis":null},"y":{"datum":-0.424,"type":"quantitative","axis":null}}
}
]
}
